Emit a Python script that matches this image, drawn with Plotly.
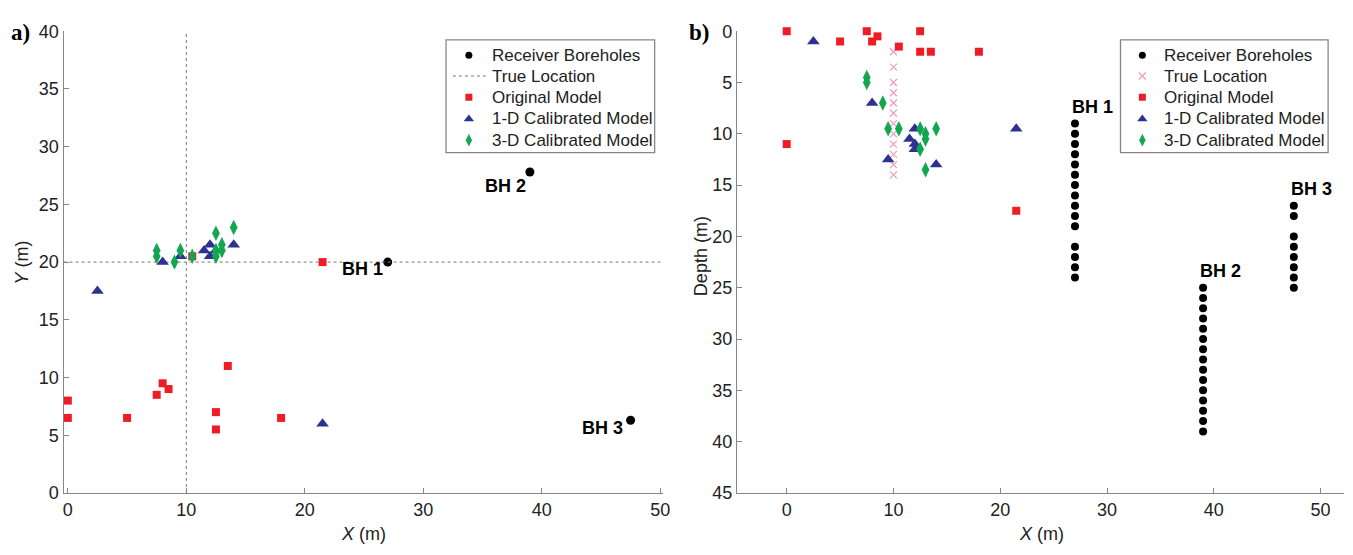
import plotly.graph_objects as go

# ---------------- Data: panel a) plan view (X, Y) ----------------
bh_names = ["BH 1", "BH 2", "BH 3"]
bh_plan_x = [27, 39, 47.5]
bh_plan_y = [20, 27.8, 6.3]

true_x = 10
true_y = 20
true_depths = [2, 3.5, 5, 6, 7, 8, 9, 10, 11, 12, 13, 14]

orig_x = [0, 0, 5, 7.5, 8, 8.5, 10.5, 12.5, 12.5, 13.5, 18, 21.5]
orig_y = [8, 6.5, 6.5, 8.5, 9.5, 9, 20.5, 7, 5.5, 11, 6.5, 20]
orig_depth_x = [0, 5, 7.5, 8, 8.5, 10.5, 12.5, 12.5, 13.5, 18, 0, 21.5]
orig_depth = [0, 1, 0, 1, 0.5, 1.5, 0, 2, 2, 2, 11, 17.5]

cal1_x = [2.5, 8, 9.5, 11.5, 12, 12, 12.5, 14, 21.5]
cal1_y = [17.5, 20, 20.5, 21, 21.5, 20.5, 21, 21.5, 6]
cal1_depth_x = [2.5, 8, 9.5, 12, 11.5, 12, 12, 14, 21.5]
cal1_depth = [1, 7, 12.5, 9.5, 10.5, 11, 11.5, 13, 9.5]

cal3_x = [7.5, 7.5, 9, 9.5, 10.5, 12.5, 12.5, 13, 13, 14, 12.5]
cal3_y = [21, 20.5, 20, 21, 20.5, 22.5, 20.5, 21.5, 21, 23, 21]
cal3_depth_x = [7.5, 7.5, 9, 9.5, 10.5, 12.5, 13, 13, 12.5, 14, 13]
cal3_depth = [4.5, 5, 7, 9.5, 9.5, 9.5, 10, 10.5, 11.5, 9.5, 13.5]

# ---------------- Data: panel b) section (X, Depth) ----------------
bh1_depths = [9, 10, 11, 12, 13, 14, 15, 16, 17, 18, 19, 21, 22, 23, 24]
bh2_depths = [25, 26, 27, 28, 29, 30, 31, 32, 33, 34, 35, 36, 37, 38, 39]
bh3_depths = [17, 18, 20, 21, 22, 23, 24, 25]

ticks_x = [0, 10, 20, 30, 40, 50]
ticks_y_a = [0, 5, 10, 15, 20, 25, 30, 35, 40]
ticks_y_b = [0, 5, 10, 15, 20, 25, 30, 35, 40, 45]

legend_labels = ["Receiver Boreholes", "True Location", "Original Model",
                 "1-D Calibrated Model", "3-D Calibrated Model"]

# ---------------- Styles ----------------
RED = "#ee1c25"
BLUE = "#2e3192"
GREEN = "#13a650"
PINK = "#f29ac0"
AXIS = "#8c8585"
TXT = "#222222"
FONT = "Liberation Sans, Arial, sans-serif"
W, H = 1353, 555

fig = go.Figure()

# ---- panel a ----
fig.add_trace(go.Scatter(x=bh_plan_x, y=bh_plan_y, mode="markers", name=legend_labels[0],
                         marker=dict(color="black", size=9, symbol="circle"),
                         xaxis="x", yaxis="y", cliponaxis=False))
fig.add_trace(go.Scatter(x=[true_x, true_x, None, -0.36, 50.2], y=[0, 40, None, true_y, true_y],
                         mode="lines", name=legend_labels[1],
                         line=dict(color="#777777", width=1, dash="dot"),
                         xaxis="x", yaxis="y"))
fig.add_trace(go.Scatter(x=orig_x, y=orig_y, mode="markers", name=legend_labels[2],
                         marker=dict(color=RED, size=8, symbol="square"),
                         xaxis="x", yaxis="y", cliponaxis=False))
fig.add_trace(go.Scatter(x=cal1_x, y=cal1_y, mode="markers", name=legend_labels[3],
                         marker=dict(color=BLUE, size=11, symbol="triangle-up"),
                         xaxis="x", yaxis="y", cliponaxis=False))
fig.add_trace(go.Scatter(x=cal3_x, y=cal3_y, mode="markers", name=legend_labels[4],
                         marker=dict(color=GREEN, size=11, symbol="diamond-tall"),
                         xaxis="x", yaxis="y", cliponaxis=False))

# ---- panel b ----
bh_sec_x = [27] * len(bh1_depths) + [39] * len(bh2_depths) + [47.5] * len(bh3_depths)
bh_sec_y = bh1_depths + bh2_depths + bh3_depths
fig.add_trace(go.Scatter(x=bh_sec_x, y=bh_sec_y, mode="markers", name=legend_labels[0],
                         marker=dict(color="black", size=8, symbol="circle"),
                         xaxis="x2", yaxis="y2", cliponaxis=False))
fig.add_trace(go.Scatter(x=[true_x] * len(true_depths), y=true_depths, mode="markers",
                         name=legend_labels[1],
                         marker=dict(color=PINK, size=7, symbol="x-thin", line=dict(color=PINK, width=1.2)),
                         xaxis="x2", yaxis="y2", cliponaxis=False))
fig.add_trace(go.Scatter(x=orig_depth_x, y=orig_depth, mode="markers", name=legend_labels[2],
                         marker=dict(color=RED, size=8, symbol="square"),
                         xaxis="x2", yaxis="y2", cliponaxis=False))
fig.add_trace(go.Scatter(x=cal1_depth_x, y=cal1_depth, mode="markers", name=legend_labels[3],
                         marker=dict(color=BLUE, size=11, symbol="triangle-up"),
                         xaxis="x2", yaxis="y2", cliponaxis=False))
fig.add_trace(go.Scatter(x=cal3_depth_x, y=cal3_depth, mode="markers", name=legend_labels[4],
                         marker=dict(color=GREEN, size=11, symbol="diamond-tall"),
                         xaxis="x2", yaxis="y2", cliponaxis=False))

# ---- custom legends (drawn on a pixel-coordinate overlay axis) ----
row_y = [47, 68.5, 90.5, 113, 135]
legend_boxes = [dict(x0=448, x1=658, sym_x=471, txt_x=492, true_style="line"),
                dict(x0=1127, x1=1336, sym_x=1149, txt_x=1169, true_style="x")]
sym_styles = [dict(color="black", size=7, symbol="circle"),
              None,
              dict(color=RED, size=7, symbol="square"),
              dict(color=BLUE, size=9, symbol="triangle-up"),
              dict(color=GREEN, size=9, symbol="diamond-tall")]
shapes = []
annotations = []
for box in legend_boxes:
    shapes.append(dict(type="rect", xref="paper", yref="paper",
                       x0=box["x0"] / W, x1=box["x1"] / W, y0=1 - 148 / H, y1=1 - 31 / H,
                       line=dict(color="#8a8585", width=1.3), fillcolor="white", layer="above"))
for box in legend_boxes:
    for i, lab in enumerate(legend_labels):
        annotations.append(dict(x=box["txt_x"], y=row_y[i], xref="x3", yref="y3", text=lab,
                                showarrow=False, xanchor="left", yanchor="middle",
                                font=dict(family=FONT, size=17, color=TXT)))
        if sym_styles[i] is not None:
            fig.add_trace(go.Scatter(x=[box["sym_x"]], y=[row_y[i]], mode="markers",
                                     marker=sym_styles[i], xaxis="x3", yaxis="y3",
                                     showlegend=False, hoverinfo="skip", cliponaxis=False))
        elif box["true_style"] == "line":
            annotations.append(dict(x=455, y=row_y[i], ax=489, ay=row_y[i], xref="x3", yref="y3",
                                    axref="x3", ayref="y3", text="", showarrow=True,
                                    arrowhead=0, arrowwidth=1, arrowcolor="#ffffff"))
            fig.add_trace(go.Scatter(x=[455, 489], y=[row_y[i], row_y[i]], mode="lines",
                                     line=dict(color="#777777", width=1, dash="dot"),
                                     xaxis="x3", yaxis="y3", showlegend=False, hoverinfo="skip"))
        else:
            fig.add_trace(go.Scatter(x=[box["sym_x"]], y=[row_y[i]], mode="markers",
                                     marker=dict(color=PINK, size=7, symbol="x-thin",
                                                 line=dict(color=PINK, width=1.2)),
                                     xaxis="x3", yaxis="y3", showlegend=False, hoverinfo="skip",
                                     cliponaxis=False))

axis_common = dict(showline=True, linecolor=AXIS, linewidth=1.3, ticks="inside", ticklen=5,
                   tickcolor=AXIS, tickwidth=1.2, showgrid=False, zeroline=False, mirror=False,
                   tickfont=dict(family=FONT, size=18, color=TXT))
ydom = [1 - 501 / H, 1 - 22 / H]

lab_font = dict(family=FONT, size=18, color="black")
# borehole labels panel a
a_shift = [(-3, -7), (-2, -14), (-6, -8)]
for name, bx, by, (dx, dy) in zip(bh_names, bh_plan_x, bh_plan_y, a_shift):
    annotations.append(dict(x=bx, y=by, xref="x", yref="y", text="<b>%s</b>" % name,
                            showarrow=False, xanchor="right", yanchor="middle",
                            xshift=dx, yshift=dy, font=lab_font))
# borehole labels panel b
b_x = [27, 39, 47.5]
b_top = [bh1_depths[0], bh2_depths[0], bh3_depths[0]]
for name, bx, by in zip(bh_names, b_x, b_top):
    annotations.append(dict(x=bx, y=by, xref="x2", yref="y2", text="<b>%s</b>" % name,
                            showarrow=False, xanchor="left", yanchor="middle",
                            xshift=-5, yshift=17, font=lab_font))
# panel letters
for letter, px in (("a)", 8), ("b)", 691)):
    annotations.append(dict(x=px / W, y=1 - 23 / H, xref="paper", yref="paper", text="<b>%s</b>" % letter,
                            showarrow=False, xanchor="left", yanchor="middle",
                            font=dict(family="Liberation Serif, Times New Roman, serif", size=23, color="black")))
# axis titles
title_font = dict(family=FONT, size=18, color=TXT)
annotations.append(dict(x=365 / W, y=1 - 544 / H, xref="paper", yref="paper", text="<i>X</i> (m)",
                        showarrow=False, xanchor="center", yanchor="middle", font=title_font))
annotations.append(dict(x=1047 / W, y=1 - 544 / H, xref="paper", yref="paper", text="<i>X</i> (m)",
                        showarrow=False, xanchor="center", yanchor="middle", font=title_font))
annotations.append(dict(x=21 / W, y=1 - 262 / H, xref="paper", yref="paper", text="<i>Y</i> (m)",
                        showarrow=False, xanchor="center", yanchor="middle", textangle=-90, font=title_font))
annotations.append(dict(x=704 / W, y=1 - 255 / H, xref="paper", yref="paper", text="Depth (m)",
                        showarrow=False, xanchor="center", yanchor="middle", textangle=-90, font=title_font))

# drop the helper white arrow annotations (not needed)
annotations = [a for a in annotations if not a.get("showarrow", False)]

hidden = dict(visible=False, showgrid=False, zeroline=False, fixedrange=True)
fig.update_layout(
    width=W, height=H, margin=dict(l=0, r=0, t=0, b=0),
    paper_bgcolor="white", plot_bgcolor="rgba(0,0,0,0)",
    xaxis=dict(domain=[63 / W, 666 / W], range=[-0.36, 50.2], tickvals=ticks_x, anchor="y", **axis_common),
    yaxis=dict(domain=ydom, range=[0, 40], tickvals=ticks_y_a, anchor="x", **axis_common),
    xaxis2=dict(domain=[741 / W, 1352 / W], range=[-4.65, 52.2], tickvals=ticks_x, anchor="y2", **axis_common),
    yaxis2=dict(domain=ydom, range=[45, 0], tickvals=ticks_y_b, anchor="x2", **axis_common),
    xaxis3=dict(domain=[0, 1], range=[0, W], anchor="y3", **hidden),
    yaxis3=dict(domain=[0, 1], range=[H, 0], anchor="x3", **hidden),
    shapes=[dict(s, fillcolor="rgba(0,0,0,0)") for s in shapes],
    annotations=annotations,
    showlegend=False,
)

fig.write_html("out.html")
